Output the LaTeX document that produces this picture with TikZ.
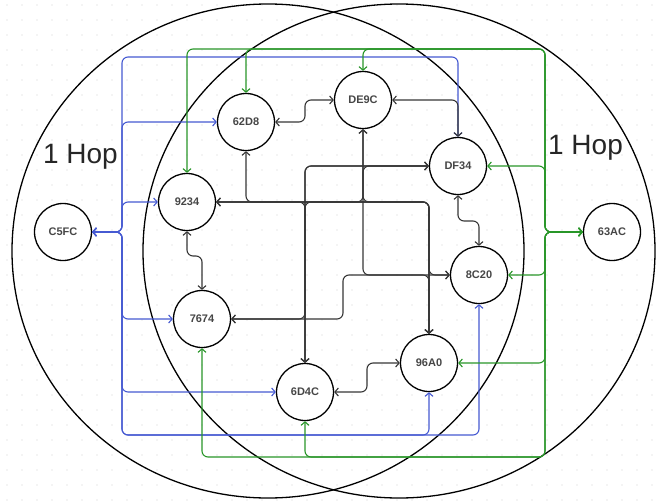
\documentclass[tikz,border=0pt]{standalone}
\usepackage{fontspec}
\setmainfont{Liberation Sans}
\usetikzlibrary{arrows.meta}
\definecolor{cblue}{RGB}{70,90,210}
\definecolor{cgreen}{RGB}{40,150,40}
\definecolor{cdark}{RGB}{55,55,55}
\definecolor{ctext}{RGB}{70,70,70}
\begin{document}
\begin{tikzpicture}[x=1pt,y=-1pt,
  >={Straight Barb[length=3.5pt,width=8pt]},
  hub/.style={circle, draw=black, line width=1.3pt, fill=white, minimum size=57pt, inner sep=0pt,
    font=\fontsize{11}{12}\selectfont\bfseries, text=ctext},
  hop/.style={font=\fontsize{28}{30}\selectfont, text=black!85, anchor=base, inner sep=0pt},
  link/.style={line width=1.1pt, rounded corners=6pt, <->},
  blk/.style={link, draw=cdark},
  blu/.style={link, draw=cblue},
  grn/.style={link, draw=cgreen},
  bigring/.style={draw=black, line width=1.3pt}]
\useasboundingbox (0,0) rectangle (659,501);
\fill[white] (0,0) rectangle (659,501);
\foreach \i in {0,...,43} \foreach \j in {0,...,33}
  \fill[gray!35] (7+15*\i,5+15*\j) circle (0.6pt);

% the two 1-hop rings
\draw[bigring] (268,251) ellipse [x radius=256pt, y radius=247pt];
\draw[bigring] (399,251) ellipse [x radius=256pt, y radius=247pt];
\node[hop] (hopL) at (80.5,163) {1 Hop};
\node[hop] (hopR) at (585.5,154) {1 Hop};

% nodes
\node[hub] (nC5FC) at (63,232) {C5FC};
\node[hub] (n62D8) at (246,122) {62D8};
\node[hub] (nDE9C) at (363,100) {DE9C};
\node[hub] (nDF34) at (458,166) {DF34};
\node[hub] (n9234) at (187,202) {9234};
\node[hub] (n63AC) at (612,232) {63AC};
\node[hub] (n8C20) at (479,275) {8C20};
\node[hub] (n7674) at (202,319) {7674};
\node[hub] (n96A0) at (429,363) {96A0};
\node[hub] (n6D4C) at (305,392) {6D4C};

\coordinate (bT) at (122,232);
\coordinate (gT) at (545,232);

% blue links from C5FC
\draw[blu] (nC5FC.east) -- (bT) -- (122,57) -| (nDF34.north);
\draw[blu] (nC5FC.east) -- (bT) |- (n62D8.west);
\draw[blu] (nC5FC.east) -- (bT) |- (n9234.west);
\draw[blu] (nC5FC.east) -- (bT) |- (n7674.west);
\draw[blu] (nC5FC.east) -- (bT) |- (n6D4C.west);
\draw[blu] (nC5FC.east) -- (bT) -- (122,435) -| (n96A0.south);
\draw[blu] (nC5FC.east) -- (bT) -- (122,435) -| (n8C20.south);

% green links from 63AC
\draw[grn] (n63AC.west) -- (gT) -- (545,49) -| (n9234.north);
\draw[grn] (n63AC.west) -- (gT) -- (545,49) -| (n62D8.north);
\draw[grn] (n63AC.west) -- (gT) -- (545,49) -| (nDE9C.north);
\draw[grn] (n63AC.west) -- (gT) |- (nDF34.east);
\draw[grn] (n63AC.west) -- (gT) |- (n8C20.east);
\draw[grn] (n63AC.west) -- (gT) |- (n96A0.east);
\draw[grn] (n63AC.west) -- (gT) -- (545,457) -| (n6D4C.south);
\draw[grn] (n63AC.west) -- (gT) -- (545,457) -| (n7674.south);

% inner links
\draw[blk] (n62D8.east) -- (305,122) -- (305,100) -- (nDE9C.west);
\draw[blk] (nDE9C.east) -| (nDF34.north);
\draw[blk] (nDF34.south) -- (458,221) -| (n8C20.north);
\draw[blk] (n9234.south) -- (187,256) -| (n7674.north);
\draw[blk] (n6D4C.east) -- (367,392) |- (n96A0.west);
\draw[blk] (n9234.east) -| (n96A0.north);
\draw[blk] (n62D8.south) |- (305,202) -- (n6D4C.north);
\draw[blk] (n6D4C.north) |- (nDF34.west);
\draw[blk] (nDE9C.south) |- (n8C20.west);
\draw[blk] (n7674.east) -- (343,319) |- (429,275) -- (n96A0.north);
\draw[blk] (n9234.east) -- (363,202) |- (nDF34.west);
\draw[blk] (n96A0.north) |- (363,202) -- (nDE9C.south);
\draw[blk] (n9234.east) -| (429,275) -- (n8C20.west);
\draw[blk] (n96A0.north) |- (305,202) -- (n6D4C.north);
\draw[blk] (n7674.east) -| (305,166) -- (nDF34.west);
\end{tikzpicture}
\end{document}
